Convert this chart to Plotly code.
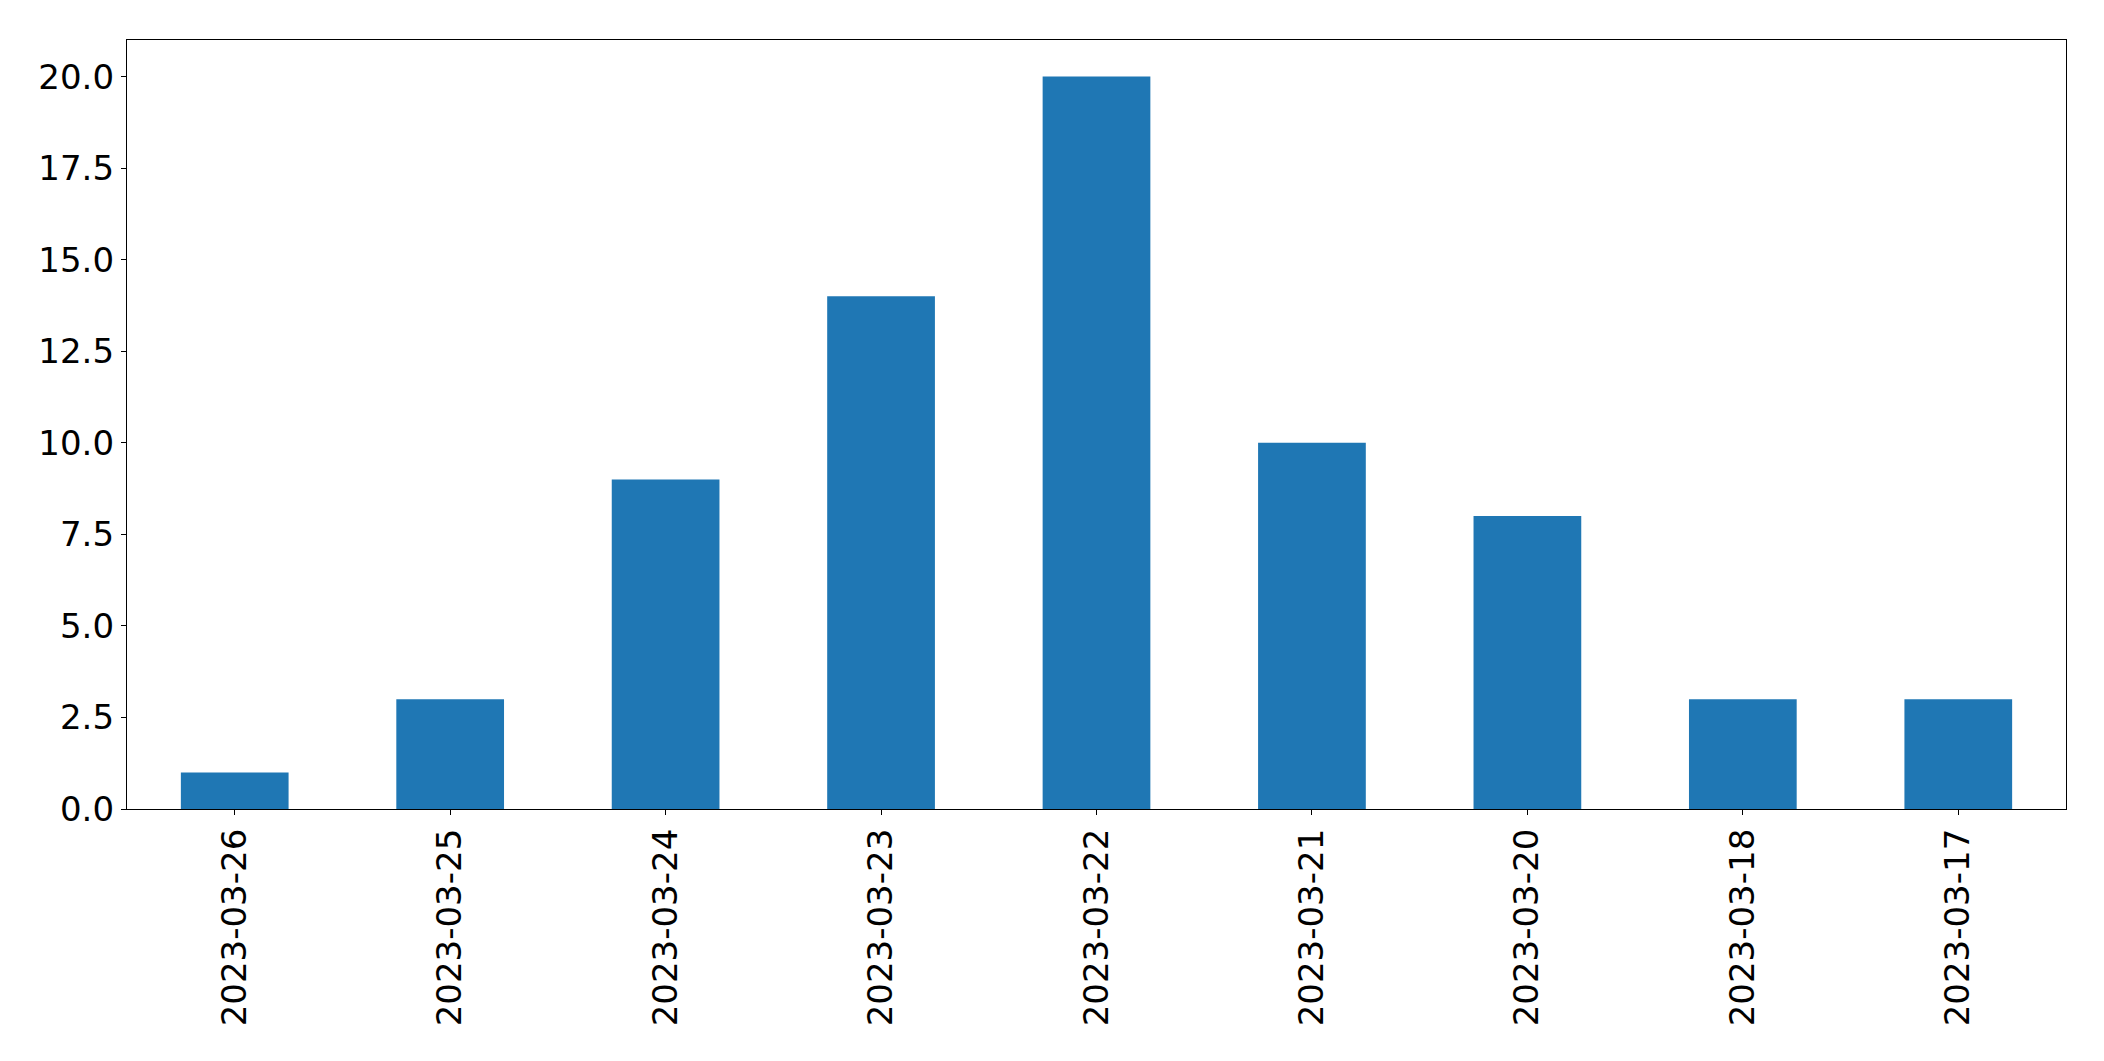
import plotly.graph_objects as go

dates = ["2023-03-26", "2023-03-25", "2023-03-24", "2023-03-23", "2023-03-22",
         "2023-03-21", "2023-03-20", "2023-03-18", "2023-03-17"]
counts = [1, 3, 9, 14, 20, 10, 8, 3, 3]
y_ticks = [0, 2.5, 5, 7.5, 10, 12.5, 15, 17.5, 20]

fig = go.Figure(go.Bar(x=dates, y=counts, marker_color="#1f77b4",
                       marker_line_width=0, width=0.5))

font = dict(family="DejaVu Sans", size=34, color="black")
fig.update_layout(
    width=2104, height=1061,
    margin=dict(l=119, r=46, t=32, b=260, autoexpand=False),
    plot_bgcolor="white", paper_bgcolor="white",
    showlegend=False,
    font=font,
)
fig.update_xaxes(type="category", range=[-0.5, 8.5], tickangle=-90,
                 showline=True, linecolor="black", linewidth=1.3, mirror=True,
                 ticks="outside", ticklen=5, tickwidth=1.3, tickcolor="black",
                 showgrid=False, tickfont=font, ticklabelstandoff=0)
fig.update_yaxes(range=[0, 21], tickvals=y_ticks,
                 ticktext=[f"{v:.1f}" for v in y_ticks],
                 showline=True, linecolor="black", linewidth=1.3, mirror=True,
                 ticks="outside", ticklen=5, tickwidth=1.3, tickcolor="black",
                 showgrid=False, zeroline=False, tickfont=font)

fig.write_html("out.html")
